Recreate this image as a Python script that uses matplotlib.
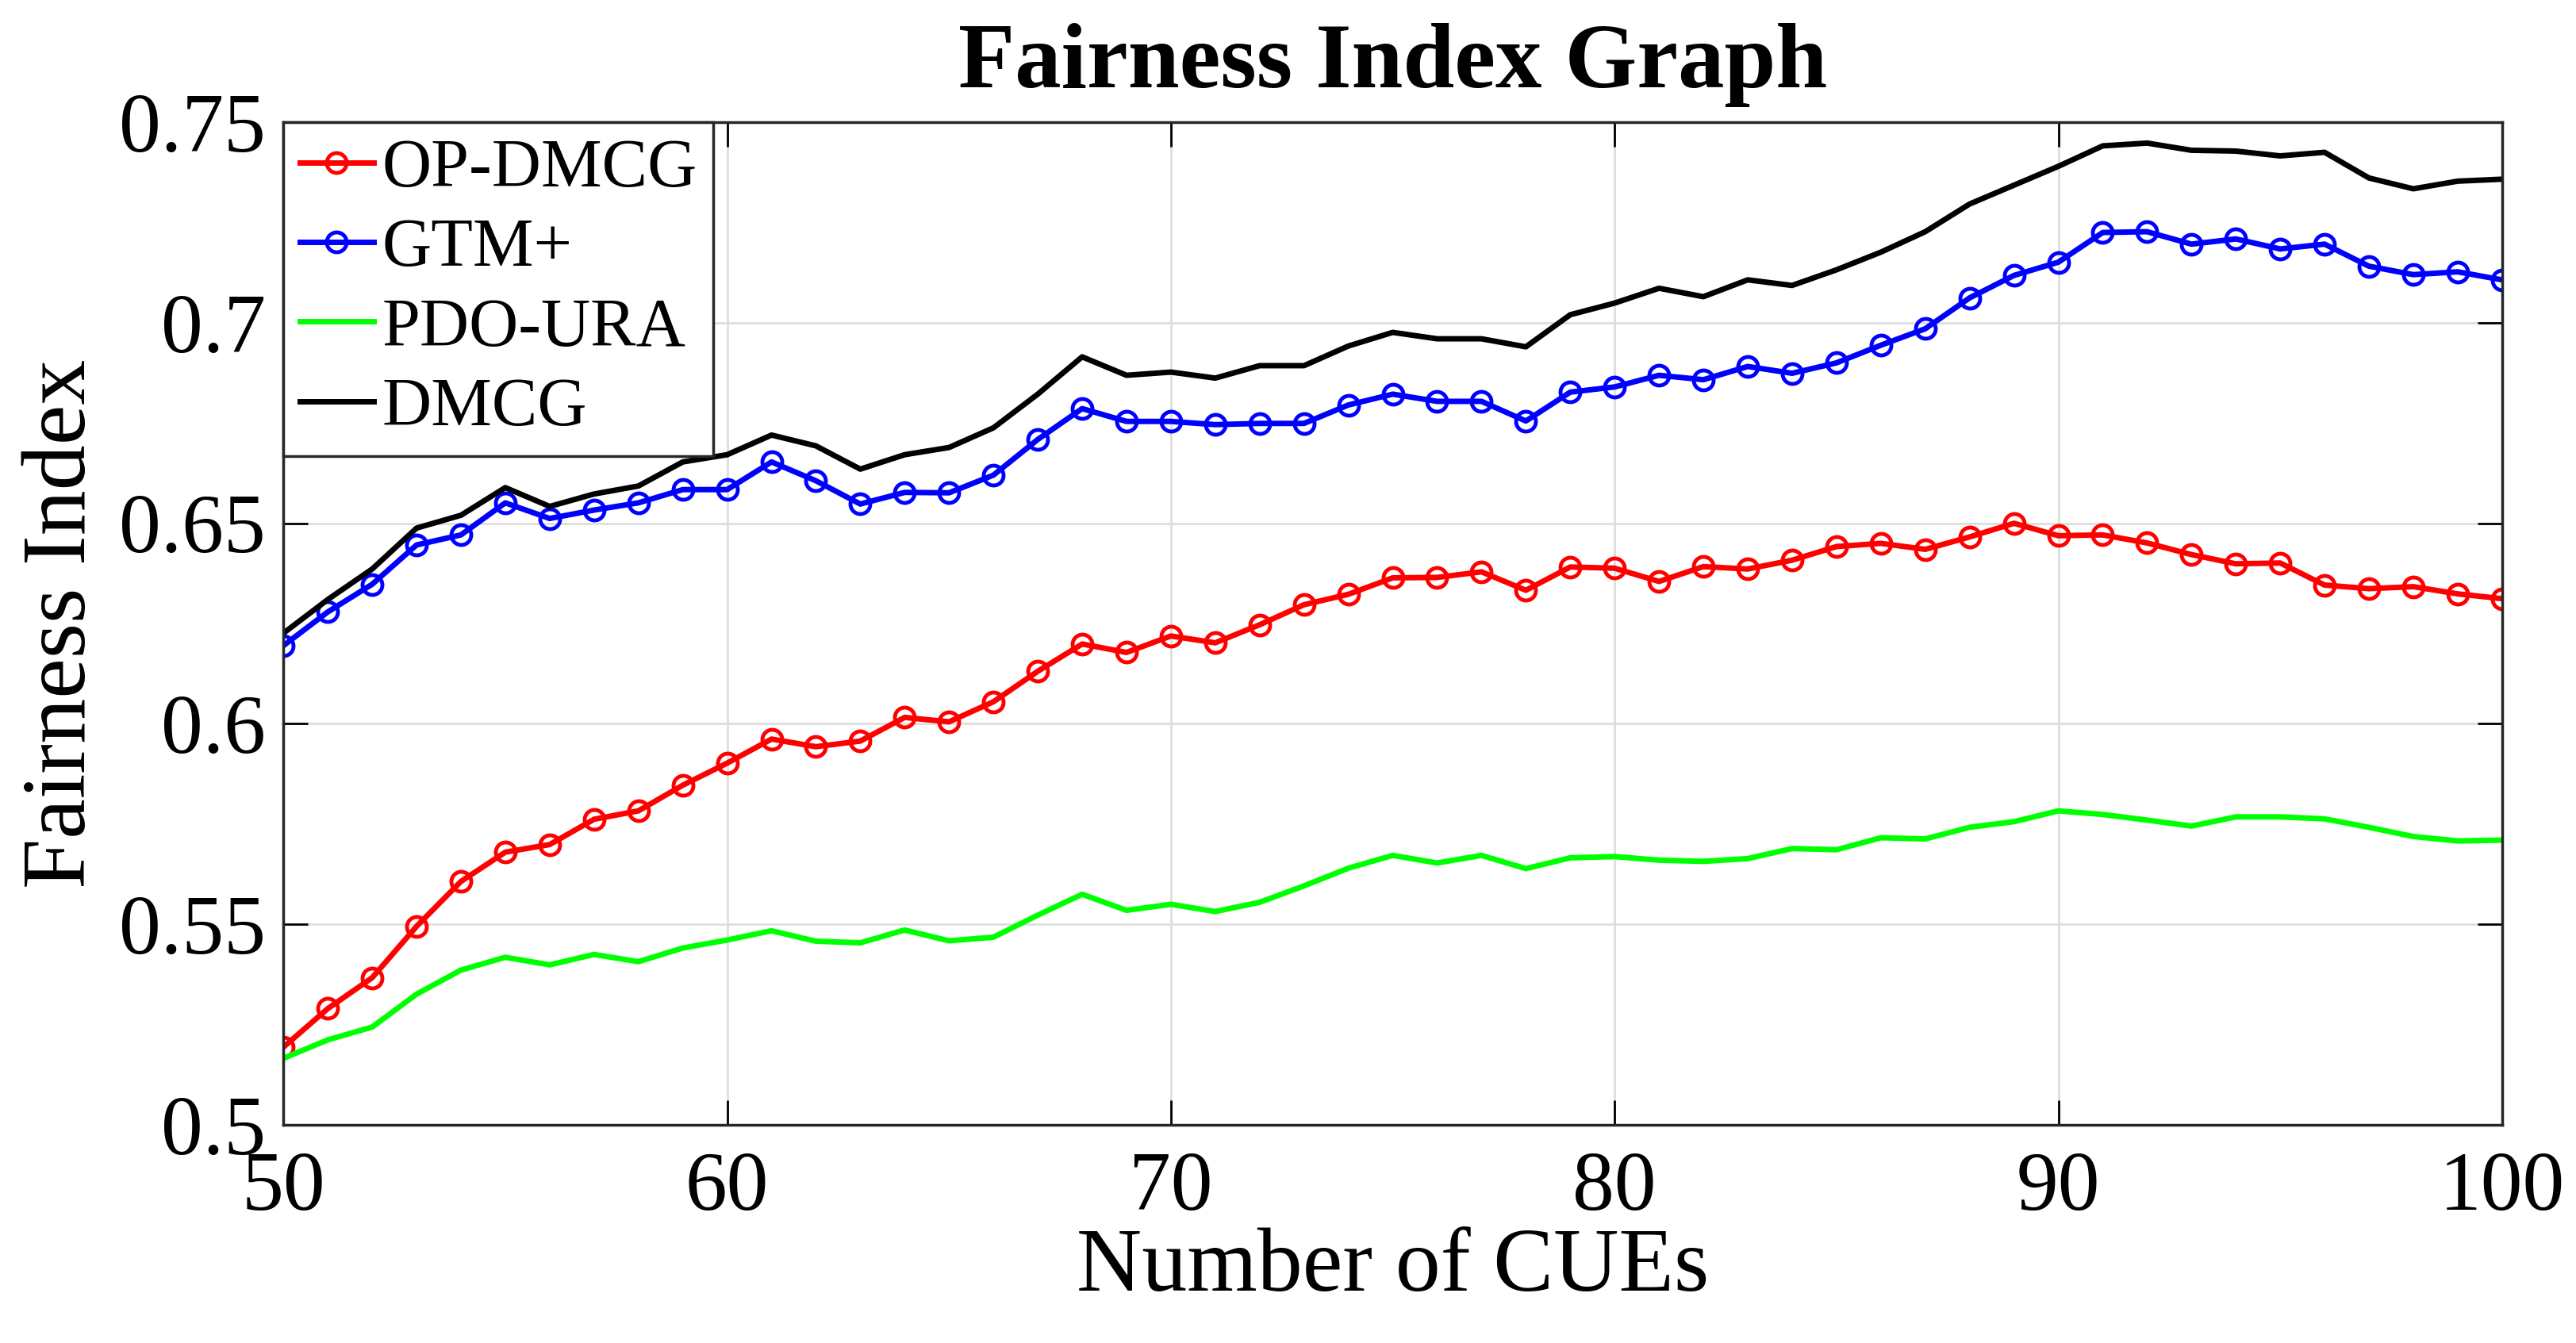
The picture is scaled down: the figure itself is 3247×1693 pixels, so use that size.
import numpy as np
import matplotlib
matplotlib.use("Agg")
import matplotlib.pyplot as plt

# number of CUEs on the x axis
cues = list(range(50, 101))

op_dmcg = [0.5194, 0.5290, 0.5367, 0.5495, 0.5607, 0.5680, 0.5699, 0.5762, 0.5783, 0.5847,
           0.5902, 0.5962, 0.5943, 0.5957, 0.6016, 0.6005, 0.6055, 0.6131, 0.6199, 0.6178,
           0.6219, 0.6202, 0.6247, 0.6297, 0.6323, 0.6364, 0.6365, 0.6379, 0.6333, 0.6391,
           0.6388, 0.6355, 0.6392, 0.6386, 0.6408, 0.6442, 0.6450, 0.6435, 0.6466, 0.6500,
           0.6469, 0.6471, 0.6451, 0.6422, 0.6399, 0.6401, 0.6346, 0.6337, 0.6342, 0.6324,
           0.6312]

gtm_plus = [0.6195, 0.6279, 0.6348, 0.6446, 0.6471, 0.6551, 0.6512, 0.6533, 0.6551, 0.6584,
            0.6584, 0.6653, 0.6606, 0.6548, 0.6577, 0.6576, 0.6620, 0.6709, 0.6786, 0.6754,
            0.6754, 0.6746, 0.6749, 0.6749, 0.6795, 0.6822, 0.6804, 0.6804, 0.6755, 0.6827,
            0.6840, 0.6869, 0.6858, 0.6891, 0.6874, 0.6900, 0.6944, 0.6985, 0.7062, 0.7118,
            0.7151, 0.7225, 0.7227, 0.7196, 0.7209, 0.7184, 0.7196, 0.7141, 0.7120, 0.7127,
            0.7107]

pdo_ura = [0.5166, 0.5212, 0.5244, 0.5326, 0.5386, 0.5418, 0.5399, 0.5425, 0.5407, 0.5441,
           0.5461, 0.5484, 0.5458, 0.5454, 0.5486, 0.5459, 0.5468, 0.5523, 0.5575, 0.5535,
           0.5550, 0.5532, 0.5555, 0.5596, 0.5640, 0.5672, 0.5653, 0.5672, 0.5639, 0.5666,
           0.5669, 0.5660, 0.5657, 0.5664, 0.5689, 0.5686, 0.5716, 0.5713, 0.5742, 0.5756,
           0.5783, 0.5774, 0.5760, 0.5745, 0.5768, 0.5768, 0.5763, 0.5742, 0.5719, 0.5708,
           0.5710]

dmcg = [0.6226, 0.6310, 0.6386, 0.6488, 0.6520, 0.6589, 0.6542, 0.6573, 0.6593, 0.6653,
        0.6671, 0.6720, 0.6693, 0.6635, 0.6671, 0.6689, 0.6738, 0.6822, 0.6915, 0.6869,
        0.6877, 0.6862, 0.6893, 0.6893, 0.6942, 0.6976, 0.6960, 0.6960, 0.6940, 0.7020,
        0.7049, 0.7086, 0.7065, 0.7107, 0.7093, 0.7132, 0.7176, 0.7227, 0.7296, 0.7343,
        0.7390, 0.7441, 0.7448, 0.7430, 0.7428, 0.7416, 0.7425, 0.7361, 0.7334, 0.7353,
        0.7358]

xticks = [50, 60, 70, 80, 90, 100]
yticks = [0.5, 0.55, 0.6, 0.65, 0.7, 0.75]
ytick_labels = ['0.5', '0.55', '0.6', '0.65', '0.7', '0.75']

plt.rcParams['font.family'] = ['Liberation Serif', 'DejaVu Serif']

fig = plt.figure(figsize=(32.48, 16.93), dpi=100)
ax = fig.add_axes([0.110, 0.1624, 0.861, 0.7466])

lw = 5
ax.plot(cues, op_dmcg, color='red', lw=lw, marker='o', ms=18, mfc='none', mew=3.5,
        label='OP-DMCG')
ax.plot(cues, gtm_plus, color='blue', lw=lw, marker='o', ms=18, mfc='none', mew=3.5,
        label='GTM+')
ax.plot(cues, pdo_ura, color=(0, 1, 0), lw=lw, label='PDO-URA')
ax.plot(cues, dmcg, color='black', lw=lw, label='DMCG')

ax.set_xlim(50, 100)
ax.set_ylim(0.5, 0.75)
ax.set_xticks(xticks)
ax.set_yticks(yticks)
ax.set_yticklabels(ytick_labels)
ax.grid(True, color='#dedede', lw=2)
ax.set_axisbelow(True)
ax.tick_params(direction='in', length=22, width=2, labelsize=76,
               top=True, right=True)
ax.tick_params(axis='x', pad=24)
ax.tick_params(axis='y', pad=16)
for s in ax.spines.values():
    s.set_linewidth(2.5)
    s.set_color('#262626')

ax.set_title('Fairness Index Graph', fontsize=84, fontweight='bold', pad=32)
ax.set_xlabel('Number of CUEs', fontsize=82, labelpad=0)
ax.set_ylabel('Fairness Index', fontsize=82, labelpad=14)

leg = ax.legend(loc='upper left', fontsize=62, borderaxespad=0, handlelength=1.08,
                handletextpad=0.12, labelspacing=0.24, borderpad=0.24,
                fancybox=False, framealpha=1)
leg.get_frame().set_edgecolor('#262626')
leg.get_frame().set_linewidth(2.5)

fig.savefig('out.png', dpi=100)
